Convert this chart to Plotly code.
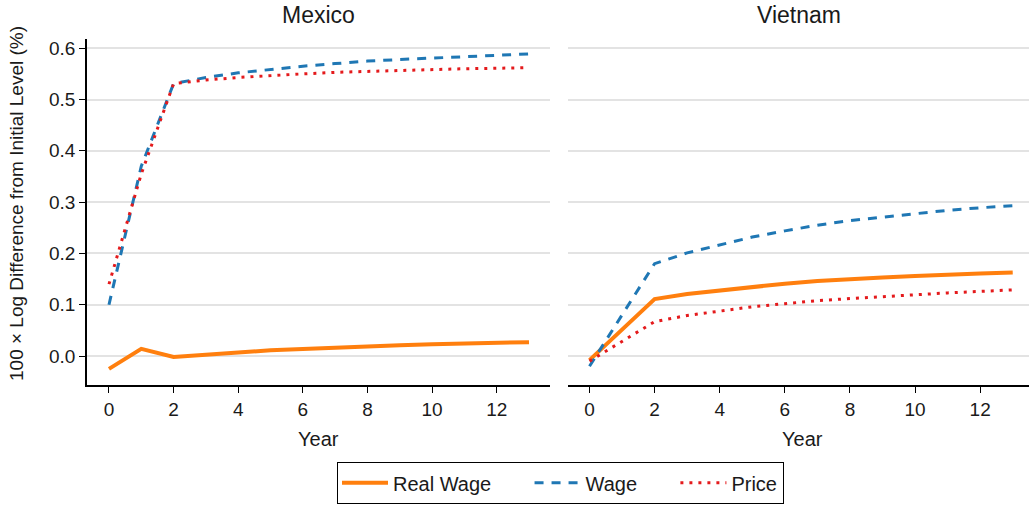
import plotly.graph_objects as go

# Years and simulated responses (100 x log difference from initial level, %)
years_mex = list(range(0, 14))
mex_real_wage = [-0.025, 0.014, -0.002, 0.003, 0.007, 0.011, 0.014, 0.017, 0.019, 0.021, 0.023, 0.024, 0.026, 0.027]
mex_wage = [0.100, 0.370, 0.531, 0.543, 0.552, 0.559, 0.565, 0.570, 0.575, 0.578, 0.581, 0.584, 0.587, 0.589]
mex_price = [0.140, 0.355, 0.531, 0.538, 0.543, 0.547, 0.550, 0.553, 0.555, 0.557, 0.558, 0.560, 0.561, 0.562]

years_vnm = [0, 2, 3, 4, 5, 6, 7, 8, 9, 10, 11, 12, 13]
vnm_real_wage = [-0.008, 0.111, 0.121, 0.128, 0.135, 0.141, 0.146, 0.150, 0.153, 0.156, 0.159, 0.161, 0.163]
vnm_wage = [-0.020, 0.180, 0.201, 0.217, 0.232, 0.244, 0.255, 0.264, 0.271, 0.278, 0.284, 0.289, 0.293]
vnm_price = [-0.010, 0.067, 0.079, 0.088, 0.096, 0.102, 0.108, 0.112, 0.116, 0.120, 0.123, 0.126, 0.129]

x_ticks = [0, 2, 4, 6, 8, 10, 12]
y_ticks = [0.0, 0.1, 0.2, 0.3, 0.4, 0.5, 0.6]

W, H = 1029, 507
ORANGE = "#ff7f0e"
BLUE = "#1f77b4"
RED = "#e41a1c"
FONT = "Liberation Sans, Arial, Helvetica, sans-serif"
INK = "#1a1a1a"
PAD = "\u00a0" * 6  # extra room after each legend label

fig = go.Figure()

series = [
    ("Real Wage", mex_real_wage, vnm_real_wage, dict(color=ORANGE, width=4, dash="solid")),
    ("Wage", mex_wage, vnm_wage, dict(color=BLUE, width=3, dash="9px,8px")),
    ("Price", mex_price, vnm_price, dict(color=RED, width=3, dash="3px,6px")),
]
for i, (name, mex, vnm, line) in enumerate(series):
    label = name + (PAD if i < len(series) - 1 else "")
    fig.add_trace(go.Scatter(x=years_mex, y=mex, mode="lines", name=label, line=line,
                             xaxis="x", yaxis="y", legendgroup=name, showlegend=True))
    fig.add_trace(go.Scatter(x=years_vnm, y=vnm, mode="lines", name=label, line=line,
                             xaxis="x2", yaxis="y2", legendgroup=name, showlegend=False))

xl, xr = 87 / W, 550 / W
x2l, x2r = 568 / W, 1.0
yb, yt = 1 - 385 / H, 1 - 39 / H
y_range = [-0.0565, 0.618]

common_x = dict(range=[-0.68, 13.65], tickvals=x_ticks, showgrid=False, zeroline=False,
                showline=True, linecolor="black", linewidth=1.5, ticks="outside",
                ticklen=6, tickwidth=1.2, tickcolor="black",
                tickfont=dict(size=19, color=INK))

fig.update_layout(
    width=W, height=H,
    margin=dict(l=0, r=0, t=0, b=0),
    paper_bgcolor="white", plot_bgcolor="white",
    font=dict(family=FONT, color=INK),
    xaxis=dict(domain=[xl, xr], anchor="y", **common_x),
    xaxis2=dict(domain=[x2l, x2r], anchor="y2", **{**common_x, "range": [-0.66, 13.5]}),
    yaxis=dict(domain=[yb, yt], range=y_range, tickvals=y_ticks, tickformat=".1f",
               showgrid=True, gridcolor="#e3e3e3", gridwidth=1.5, zeroline=False,
               showline=True, linecolor="black", linewidth=1.5, ticks="outside",
               ticklen=6, tickwidth=1.2, tickcolor="black",
               tickfont=dict(size=19, color=INK)),
    yaxis2=dict(domain=[yb, yt], range=y_range, tickvals=y_ticks, showticklabels=False,
                showgrid=True, gridcolor="#e3e3e3", gridwidth=1.5, zeroline=False,
                showline=False, anchor="x2"),
    legend=dict(orientation="h", x=337 / W, y=1 - 462 / H, xanchor="left", yanchor="top",
                bordercolor="black", borderwidth=1.2, bgcolor="white", itemwidth=46,
                font=dict(size=20, color=INK, family=FONT)),
)

annotations = [
    dict(text="Mexico", x=(xl + xr) / 2, y=1 - 15 / H, xref="paper", yref="paper",
         showarrow=False, font=dict(size=23), xanchor="center", yanchor="middle"),
    dict(text="Vietnam", x=(x2l + x2r) / 2, y=1 - 15 / H, xref="paper", yref="paper",
         showarrow=False, font=dict(size=23), xanchor="center", yanchor="middle"),
    dict(text="Year", x=(xl + xr) / 2, y=1 - 439 / H, xref="paper", yref="paper",
         showarrow=False, font=dict(size=20), xanchor="center", yanchor="middle"),
    dict(text="Year", x=(x2l + x2r) / 2 + 0.004, y=1 - 439 / H, xref="paper", yref="paper",
         showarrow=False, font=dict(size=20), xanchor="center", yanchor="middle"),
    dict(text="100 × Log Difference from Initial Level (%)", x=16 / W, y=1 - 204 / H,
         xref="paper", yref="paper", showarrow=False, textangle=-90,
         font=dict(size=19), xanchor="center", yanchor="middle"),
]
fig.update_layout(annotations=annotations)

fig.write_html("out.html")
